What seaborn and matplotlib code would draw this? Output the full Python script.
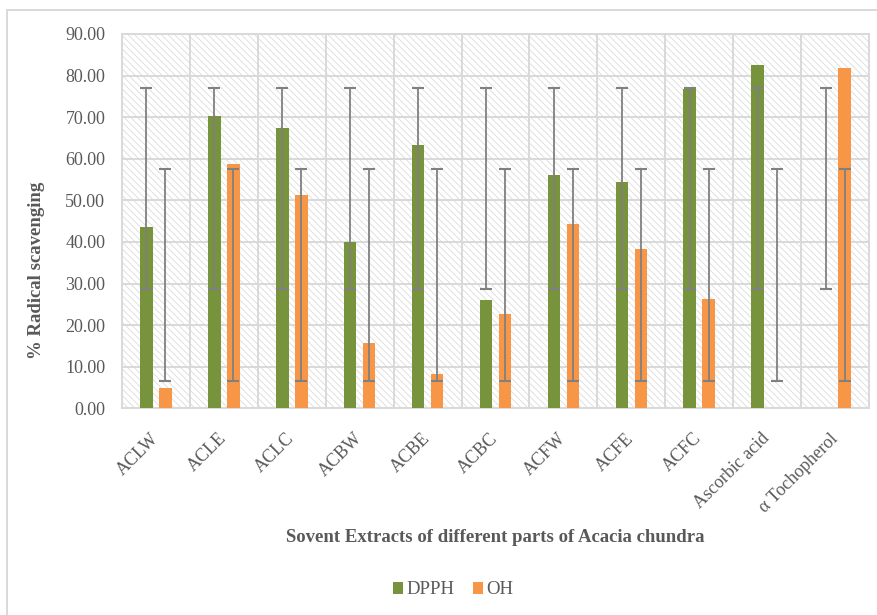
import numpy as np
import pandas as pd
import matplotlib
matplotlib.use("Agg")
import matplotlib.pyplot as plt
from matplotlib.patches import Rectangle
from matplotlib.ticker import FormatStrFormatter, FixedLocator
import seaborn as sns

# Radical scavenging activity (%) of Acacia chundra extracts and standards
categories = ["ACLW", "ACLE", "ACLC", "ACBW", "ACBE", "ACBC", "ACFW",
              "ACFE", "ACFC", "Ascorbic acid", "\u03b1 Tochopherol"]
dpph = [43.5, 70.2, 67.5, 39.9, 63.4, 26.1, 56.1, 54.5, 76.8, 82.6, 0.0]
oh = [5.0, 58.7, 51.2, 15.6, 8.3, 22.7, 44.3, 38.3, 26.3, 0.0, 81.8]
series = ["DPPH", "OH"]
y_ticks = [0, 10, 20, 30, 40, 50, 60, 70, 80, 90]

palette = {"DPPH": "#77933C", "OH": "#F79646"}
grid_c = "#d9d9d9"
text_c = "#595959"
serif = "Liberation Serif"

df = pd.DataFrame({
    "Extract": categories * 2,
    "Scavenging": dpph + oh,
    "Assay": ["DPPH"] * len(categories) + ["OH"] * len(categories),
})

sns.set_theme(style="white")
plt.rcParams["font.family"] = [serif, "DejaVu Serif"]
plt.rcParams["hatch.linewidth"] = 0.6

fig = plt.figure(figsize=(8.78, 6.15), dpi=100)
ax = fig.add_axes([122 / 878, 1 - 408.3 / 615, 747 / 878, 374.3 / 615])
ax.set_facecolor("white")

# hatched plot-area fill
ax.add_patch(Rectangle((0, 0), 1, 1, transform=ax.transAxes, facecolor="white",
                       edgecolor="#dcdcdc", hatch="\\\\\\\\\\", linewidth=0,
                       zorder=0.1))

sns.barplot(data=df, x="Extract", y="Scavenging", hue="Assay", order=categories,
            hue_order=series, palette=palette, width=0.56, gap=0.34,
            linewidth=0, saturation=1, errorbar=None, legend=False, ax=ax,
            zorder=2)

# error bars: series mean +/- standard deviation, drawn at every bar
for cont, vals in zip(ax.containers, [dpph, oh]):
    v = np.asarray(vals)
    center, sd = v.mean(), v.std(ddof=1)
    xs = [b.get_x() + b.get_width() / 2 for b in cont]
    ax.errorbar(xs, [center] * len(xs), yerr=sd, fmt="none", ecolor="#808080",
                elinewidth=1.3, capsize=4.3, capthick=1.5, zorder=3)

ax.set_xlim(-0.5, len(categories) - 0.5)
ax.set_ylim(0, 90)
ax.set_yticks(y_ticks)
ax.yaxis.set_major_formatter(FormatStrFormatter("%.2f"))
ax.xaxis.set_minor_locator(FixedLocator(np.arange(0.5, len(categories) - 0.5, 1)))
ax.set_axisbelow(True)
ax.grid(axis="y", which="major", color=grid_c, linewidth=1.4, zorder=0.5)
ax.grid(axis="x", which="minor", color=grid_c, linewidth=1.4, zorder=0.5)
ax.grid(axis="x", which="major", visible=False)
for s in ax.spines.values():
    s.set_color(grid_c)
    s.set_linewidth(1.4)
    s.set_zorder(0.5)

ax.tick_params(axis="both", which="both", length=0)
ax.tick_params(axis="y", pad=12, labelsize=13, labelcolor=text_c)
ax.tick_params(axis="x", pad=20, labelsize=13, labelcolor=text_c)
ax.set_xticks(range(len(categories)))
ax.set_xticklabels(categories, rotation=45, ha="right", rotation_mode="anchor",
                   va="center")
ax.set_xlabel("")
ax.set_ylabel("")

fig.text(37 / 878, 1 - 270 / 615, "% Radical scavenging", rotation=90,
         ha="center", va="center", fontsize=13.5, fontweight="bold", color=text_c)
fig.text(495.5 / 878, 1 - 537 / 615,
         "Sovent Extracts of different parts of Acacia chundra",
         ha="center", va="center", fontsize=13.5, fontweight="bold", color=text_c)

handles = [Rectangle((0, 0), 1, 1, facecolor=palette[s], edgecolor="none")
           for s in series]
leg = fig.legend(handles, series, loc="center", bbox_to_anchor=(453 / 878, 1 - 590 / 615),
                 ncol=2, frameon=False, fontsize=13.5, handlelength=0.55,
                 handleheight=0.55, handletextpad=0.15, columnspacing=1.0)
for t in leg.get_texts():
    t.set_color(text_c)

# chart-area border
fig.add_artist(Rectangle((7 / 878, -0.2), 1.5, 1 - 10 / 615 + 0.2,
                         transform=fig.transFigure, facecolor="none",
                         edgecolor=grid_c, linewidth=1.4))

fig.savefig("out.png", dpi=100)
